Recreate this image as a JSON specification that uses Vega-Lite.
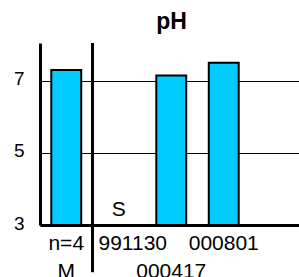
{
  "$schema": "https://vega.github.io/schema/vega-lite/v6.json",
  "width": 259,
  "height": 182,
  "autosize": {"type": "none"},
  "padding": {"left": 40, "top": 43, "right": 0, "bottom": 52},
  "background": "white",
  "title": {"text": "pH", "font": "Liberation Sans", "fontSize": 23, "fontWeight": "bold", "anchor": "middle", "color": "black", "baseline": "bottom", "offset": 10, "dx": 2, "dy": 25},
  "config": {"view": {"stroke": null}},
  "data": {"values": [
    {"cat": "M", "ph": 7.3, "row1": "n=4", "row2": "M"},
    {"cat": "991130", "ph": null, "row1": "991130", "row2": ""},
    {"cat": "000417", "ph": 7.15, "row1": "", "row2": "000417"},
    {"cat": "000801", "ph": 7.5, "row1": "000801", "row2": ""},
    {"cat": "blank", "ph": null, "row1": "", "row2": ""}
  ]},
  "encoding": {
    "x": {"field": "cat", "type": "nominal", "sort": null,
      "scale": {"domain": ["M", "991130", "000417", "000801", "blank"], "range": [0, 262.5], "paddingInner": 0, "paddingOuter": 0},
      "axis": {"labels": false, "ticks": false, "title": null, "domainColor": "black", "domainWidth": 3, "grid": false, "zindex": 2}}
  },
  "layer": [
    {
      "transform": [{"filter": "datum.ph != null"}],
      "mark": {"type": "bar", "width": {"band": 0.57}, "fill": "#00CCFF", "stroke": "black", "strokeWidth": 2},
      "encoding": {
        "y": {"field": "ph", "type": "quantitative",
          "scale": {"domain": [3, 8.05], "nice": false, "zero": false},
          "axis": {"values": [3, 5, 7], "title": null, "ticks": false, "labelPadding": 16, "labelFont": "Liberation Sans", "labelFontSize": 19, "labelColor": "black", "labelOffset": -2, "domainColor": "black", "domainWidth": 3, "grid": true, "gridColor": "black", "gridWidth": 1, "gridOpacity": 1}},
        "y2": {"datum": 3}
      }
    },
    {
      "transform": [{"filter": "datum.cat == '991130'"}],
      "mark": {"type": "rule", "stroke": "black", "strokeWidth": 3},
      "encoding": {
        "x": {"field": "cat", "type": "nominal", "sort": null, "bandPosition": 0},
        "y": {"datum": 8.05},
        "y2": {"datum": 1.69}
      }
    },
    {
      "transform": [{"filter": "datum.row1 != '' && datum.cat != '991130'"}],
      "mark": {"type": "text", "font": "Liberation Sans", "fontSize": 21, "color": "black", "baseline": "alphabetic", "dy": 25},
      "encoding": {"text": {"field": "row1"}, "y": {"datum": 3}}
    },
    {
      "transform": [{"filter": "datum.cat == '991130'"}],
      "mark": {"type": "text", "font": "Liberation Sans", "fontSize": 21, "color": "black", "baseline": "alphabetic", "dy": 25, "dx": 14},
      "encoding": {"text": {"field": "row1"}, "y": {"datum": 3}}
    },
    {
      "transform": [{"filter": "datum.row2 != ''"}],
      "mark": {"type": "text", "font": "Liberation Sans", "fontSize": 21, "color": "black", "baseline": "alphabetic", "dy": 53},
      "encoding": {"text": {"field": "row2"}, "y": {"datum": 3}}
    },
    {
      "transform": [{"filter": "datum.cat == '991130'"}],
      "mark": {"type": "text", "font": "Liberation Sans", "fontSize": 21, "color": "black", "baseline": "alphabetic", "dy": -9},
      "encoding": {"text": {"value": "S"}, "y": {"datum": 3}}
    }
  ]
}
